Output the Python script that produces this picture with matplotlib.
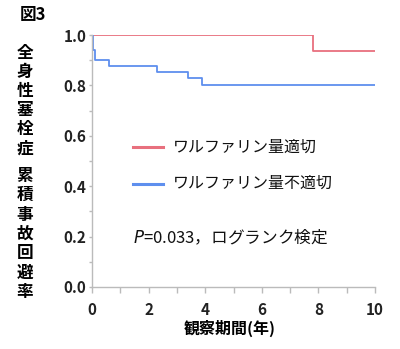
import matplotlib
matplotlib.use("Agg")
import matplotlib.pyplot as plt
from matplotlib.ticker import MultipleLocator

plt.rcParams['font.family'] = ['Noto Sans CJK JP', 'DejaVu Sans']

# Data
red_label = "ワルファリン量適切"
blue_label = "ワルファリン量不適切"
red_time = [0, 7.8, 10]
red_surv = [1.0, 0.937, 0.937]
blue_time = [0, 0.02, 0.1, 0.6, 2.3, 3.4, 3.9, 10]
blue_surv = [1.0, 0.94, 0.90, 0.878, 0.854, 0.828, 0.80, 0.80]
x_ticks = [0, 2, 4, 6, 8, 10]
y_ticks = [0.0, 0.2, 0.4, 0.6, 0.8, 1.0]
annotation = r"$\it{P}$=0.033，ログランク検定"

red_color = "#E8707E"
blue_color = "#5E8FEE"

fig = plt.figure(figsize=(4.0, 3.49), dpi=100)
ax = fig.add_axes([0.23, 0.1777, 0.7075, 0.722])

ax.step(red_time, red_surv, where='post', color=red_color, lw=1.3)
ax.step(blue_time, blue_surv, where='post', color=blue_color, lw=1.3)

ax.set_xlim(0, 10)
ax.set_ylim(0, 1.0)
ax.set_xticks(x_ticks)
ax.xaxis.set_minor_locator(MultipleLocator(1))
ax.set_yticks(y_ticks)
ax.set_yticklabels([f"{v:.1f}" for v in y_ticks])
ax.yaxis.set_minor_locator(MultipleLocator(0.1))

for s in ['top', 'right']:
    ax.spines[s].set_visible(False)
for s in ['left', 'bottom']:
    ax.spines[s].set_color('#BBBBBB')
    ax.spines[s].set_linewidth(1.0)
ax.tick_params(axis='both', which='both', color='#BBBBBB', width=1.0)
ax.tick_params(axis='x', which='both', direction='out', length=4, pad=7)
ax.tick_params(axis='y', which='both', direction='out', length=2.5, pad=1.5)
for lab in ax.get_xticklabels() + ax.get_yticklabels():
    lab.set_fontsize(11)
    lab.set_fontweight('bold')
    lab.set_color('#222222')

# legend drawn manually in axes data coords
ax.plot([1.45, 2.5], [0.556, 0.556], color=red_color, lw=2.2)
ax.plot([1.45, 2.5], [0.41, 0.41], color=blue_color, lw=2.2)
ax.text(2.85, 0.556, red_label, fontsize=11.5, va='center', ha='left', color='#111111')
ax.text(2.85, 0.41, blue_label, fontsize=11.5, va='center', ha='left', color='#111111')
ax.text(1.45, 0.198, annotation, fontsize=12, va='center', ha='left', color='#111111')

# y label: two vertical stacked groups
fig.text(0.0625, 0.874, "\n".join("全身性塞栓症"), fontsize=12, fontweight='bold',
         ha='center', va='top', linespacing=1.08)
fig.text(0.0625, 0.522, "\n".join("累積事故回避率"), fontsize=12, fontweight='bold',
         ha='center', va='top', linespacing=1.1)

fig.text(0.575, 0.06, "観察期間(年)", fontsize=11.5, fontweight='bold', ha='center', va='center')
fig.text(0.05, 0.957, "図3", fontsize=12, fontweight='bold', ha='left', va='center')

fig.savefig("out.png", dpi=100)
